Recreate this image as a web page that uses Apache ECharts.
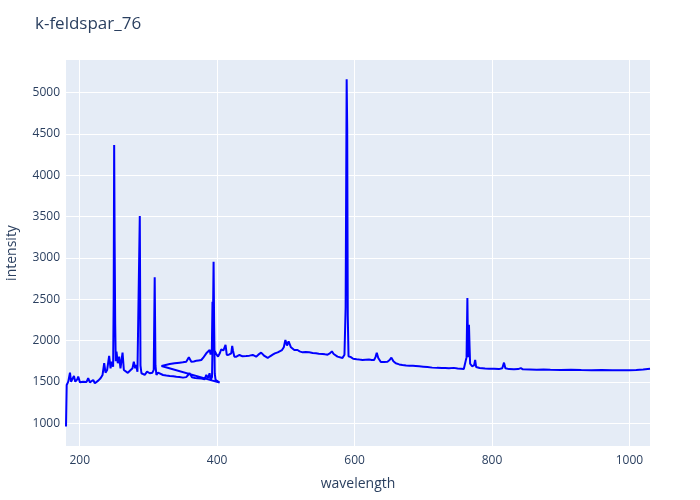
<!DOCTYPE html>
<html>
<head>
<meta charset="utf-8">
<script src="https://cdn.jsdelivr.net/npm/echarts@6.0.0/dist/echarts.min.js"></script>
<style>
  html, body { margin: 0; padding: 0; background: #fff; }
  #chart { width: 700px; height: 500px; }
</style>
</head>
<body>
<div id="chart"></div>
<script>
// spectrum, kept in recorded order (the second pass starts again near 319 nm)
var wavelength = [
  180, 181, 183.3, 185.8, 187.3, 189.7, 191.6, 193.5, 196.4, 197.8,
  200.3, 203, 205, 207.5, 210, 212.3, 214.7, 217, 219.6, 222,
  224.5, 226.9, 230.3, 233.2, 235.6, 237.5, 239.9, 242.8, 244.8, 246.7,
  248.6, 249.4, 250.1, 250.8, 251.6, 252.4, 253.5, 255.4, 257.4, 259.3,
  262.3, 264.2, 267, 270, 272.9, 276.8, 278.7, 280.7, 282, 284,
  286.3, 287.4, 288.4, 289.8, 292, 294.6, 298, 301.9, 305.8, 307.7,
  309.1, 310.2, 311.6, 314, 316.4, 321.2, 326, 331, 336, 340.6,
  345, 350.3, 355, 357.5, 360, 363.3, 368, 372, 377, 381.7,
  384.2, 386.6, 389, 390.5, 392.5, 394, 394.8, 395.6, 396.5, 397.7,
  400.5, 403.5, 406,
  319, 325, 331, 338, 345.4, 350, 355, 358.8, 362.4, 366,
  369.6, 373, 376.9, 379.5, 381.7, 384.2, 386.6, 389.1, 390.5, 392.3,
  393.2, 394, 396, 398.5, 401.3, 404, 406, 409, 412.2, 414,
  417, 420.5, 421.9, 423, 425, 428, 432.5, 437, 442.2, 447,
  451.8, 456.7, 460, 464, 468.8, 473.6, 477, 480.8, 484, 488.1,
  494.4, 497, 499.3, 501.7, 504, 507.4, 510, 512.3, 517, 520,
  524.4, 529, 534, 539, 543.8, 548, 553.5, 557, 560.7, 564,
  567, 569.6, 572, 575.2, 578, 582.4, 585.3, 587, 588.5, 589.3,
  590.1, 591.2, 594.6, 598, 603, 607, 611.5, 616, 621, 625,
  628.4, 630.5, 632.3, 634.5, 638.2, 643, 647.9, 651, 653.6, 656.5,
  660, 665, 669.6, 675, 680, 685, 689, 691.5, 694, 700,
  706, 713, 720, 727, 732, 737.3, 744.5, 750, 755, 759,
  761.5, 763, 764.2, 765.1, 765.7, 766.5, 767.3, 768.2, 771, 774,
  775.5, 777, 782, 790, 795.8, 803, 810, 815, 817.5, 819.5,
  825, 832, 838, 842, 845, 855, 865, 875, 885, 900,
  915, 930, 945, 960, 975, 990, 1000, 1010, 1020, 1030
];
var intensity = [
  960, 1463, 1503, 1612, 1503, 1524, 1572, 1503, 1530, 1564,
  1495, 1510, 1503, 1484, 1500, 1545, 1495, 1490, 1524, 1484,
  1495, 1516, 1545, 1585, 1726, 1612, 1645, 1814, 1665, 1745,
  1685, 2500, 4366, 3200, 2200, 1750, 1866, 1726, 1806, 1665,
  1854, 1645, 1624, 1610, 1605, 1665, 1745, 1665, 1705, 1624,
  1640, 3508, 1700, 1605, 1595, 1585, 1624, 1605, 1612, 1645,
  2766, 1700, 1584, 1612, 1624, 1584, 1578, 1572, 1570, 1564,
  1560, 1552, 1558, 1564, 1605, 1556, 1548, 1544, 1540, 1532,
  1584, 1544, 1605, 1524, 1560, 2300, 2955, 2200, 1600, 1524,
  1510, 1492, 1496,
  1693, 1705, 1717, 1725, 1733, 1738, 1745, 1798, 1745, 1748,
  1755, 1760, 1765, 1790, 1806, 1846, 1826, 1887, 1830, 1900,
  2471, 1950, 1880, 1840, 1806, 1850, 1895, 1880, 1947, 1826,
  1830, 1846, 1935, 1880, 1806, 1806, 1826, 1810, 1814, 1818,
  1826, 1806, 1830, 1854, 1814, 1790, 1810, 1830, 1845, 1858,
  1886, 1920, 2008, 1940, 1992, 1919, 1900, 1886, 1886, 1870,
  1858, 1862, 1858, 1850, 1846, 1842, 1838, 1834, 1830, 1845,
  1870, 1838, 1820, 1806, 1798, 1790, 1830, 2400, 5160, 4550,
  2300, 1810, 1800, 1780, 1774, 1770, 1766, 1768, 1770, 1766,
  1766, 1800, 1854, 1790, 1740, 1742, 1745, 1765, 1794, 1750,
  1725, 1712, 1705, 1700, 1697, 1695, 1693, 1713, 1690, 1685,
  1680, 1673, 1670, 1668, 1667, 1665, 1670, 1663, 1660, 1657,
  1665, 1800, 2516, 1900, 1800, 2190, 1950, 1720, 1690, 1700,
  1766, 1680, 1668, 1663, 1660, 1658, 1655, 1665, 1733, 1665,
  1655, 1652, 1655, 1667, 1652, 1650, 1648, 1650, 1646, 1645,
  1647, 1644, 1642, 1643, 1641, 1640, 1642, 1645, 1650, 1658
];
var xTicks = [200, 400, 600, 800, 1000];
var yTicks = [1000, 1500, 2000, 2500, 3000, 3500, 4000, 4500, 5000];

var points = [];
for (var i = 0; i < wavelength.length; i++) {
  points.push([wavelength[i], intensity[i]]);
}

var textColor = '#2a3f5f';
var font = '"Open Sans", verdana, arial, sans-serif';

var chart = echarts.init(document.getElementById('chart'), null, { renderer: 'canvas' });
chart.setOption({
  animation: false,
  backgroundColor: '#fff',
  title: {
    text: 'k-feldspar_76',
    left: 30,
    top: 11,
    textStyle: { fontFamily: font, fontSize: 17, fontWeight: 'normal', color: textColor }
  },
  grid: {
    left: 66, right: 50, top: 60, bottom: 54,
    outerBoundsMode: 'none',
    containLabel: false,
    show: true, backgroundColor: '#E5ECF6', borderWidth: 0
  },
  xAxis: {
    type: 'value',
    min: 180,
    max: 1030,
    name: 'wavelength',
    nameLocation: 'middle',
    nameGap: 31,
    nameTextStyle: { fontFamily: font, fontSize: 14, color: textColor },
    axisLine: { show: false },
    axisTick: { show: false, customValues: xTicks },
    axisLabel: {
      customValues: xTicks, fontFamily: font, fontSize: 12, color: textColor, margin: 9,
      formatter: function (v) { return String(v); }
    },
    splitLine: { show: true, lineStyle: { color: '#fff', width: 1 } }
  },
  yAxis: {
    type: 'value',
    min: 725,
    max: 5394,
    name: 'intensity',
    nameLocation: 'middle',
    nameGap: 47,
    nameTextStyle: { fontFamily: font, fontSize: 14, color: textColor },
    axisLine: { show: false },
    axisTick: { show: false, customValues: yTicks },
    axisLabel: {
      customValues: yTicks, fontFamily: font, fontSize: 12, color: textColor, margin: 6,
      formatter: function (v) { return String(v); }
    },
    splitLine: { show: true, lineStyle: { color: '#fff', width: 1 } }
  },
  series: [{
    type: 'line',
    data: points,
    showSymbol: false,
    sampling: null,
    lineStyle: { color: '#0000ff', width: 2 },
    itemStyle: { color: '#0000ff' }
  }]
});
</script>
</body>
</html>
